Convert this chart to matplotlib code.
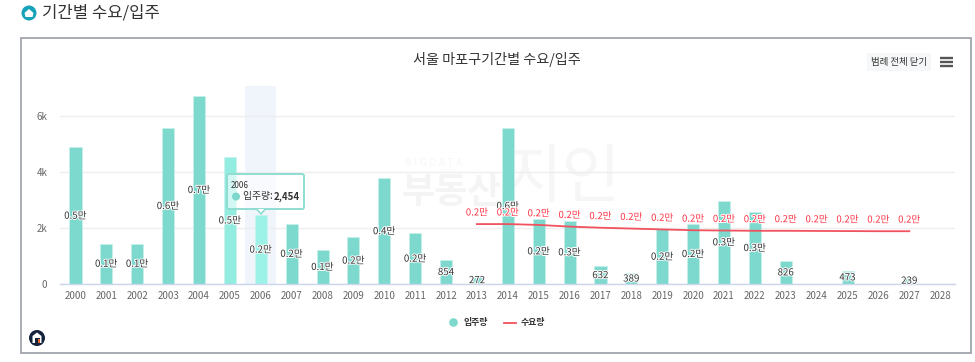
import matplotlib
matplotlib.use("Agg")
import matplotlib.pyplot as plt
import matplotlib.patheffects as pe
from matplotlib.patches import Rectangle, Circle, FancyBboxPatch, Polygon

plt.rcParams['font.family'] = ['Noto Sans CJK KR', 'DejaVu Sans']

years = list(range(2000, 2029))
supply = [4875, 1446, 1446, 5570, 6714, 4536, 2454, 2150, 1214, 1670, 3770, 1810,
          854, 272, 5570, 2330, 2260, 632, 389, 1950, 2140, 2975, 2570, 826, 0, 473, 0, 239, 0]
supply_labels = ['0.5만', '0.1만', '0.1만', '0.6만', '0.7만', '0.5만', '0.2만', '0.2만', '0.1만', '0.2만',
                 '0.4만', '0.2만', '854', '272', '0.6만', '0.2만', '0.3만', '632', '389', '0.2만',
                 '0.2만', '0.3만', '0.3만', '826', '', '473', '', '239', '']
demand_years = list(range(2013, 2028))
demand = [2140, 2140, 2110, 2050, 2010, 1980, 1950, 1920, 1910, 1900, 1900, 1895, 1890, 1885, 1885]
demand_labels = ['0.2만'] * 15
yticks = [0, 2000, 4000, 6000]
ytick_labels = ['0', '2k', '4k', '6k']

W, H = 975, 362
fig = plt.figure(figsize=(W / 100, H / 100), dpi=100, facecolor='white')

# pixel overlay (behind)
bg = fig.add_axes([0, 0, 1, 1], zorder=0)
bg.set_xlim(0, W); bg.set_ylim(H, 0); bg.axis('off')
bg.add_patch(Rectangle((20.5, 38), 950.5, 315, fc='white', ec='#9a9ea6', lw=1.2))
bg.add_patch(Circle((29, 13), 7.5, fc='#16a2b8', ec='none'))
bg.add_patch(Polygon([(24.5, 13), (29, 9), (33.5, 13), (32.5, 17), (25.5, 17)], fc='white', ec='none'))
bg.text(42, 13.5, '기간별 수요/입주', fontsize=12.0, color='#333333', va='center', ha='left')
bg.text(497, 59.5, '서울 마포구기간별 수요/입주', fontsize=10.2, color='#333333', va='center', ha='center')
bg.add_patch(Rectangle((867, 53), 64, 18, fc='#f6f7f8', ec='none'))
bg.text(899, 62, '범례 전체 닫기', fontsize=6.8, color='#333333', va='center', ha='center')
for y in (57.5, 61.5, 65.5):
    bg.plot([940, 953], [y, y], color='#555555', lw=1.7, solid_capstyle='butt')
# watermark
bg.text(405, 163, 'B I G D A T A', fontsize=7.5, color='#f6f6f6', va='center', ha='left')
bg.text(451, 193, '부동산', fontsize=26, color='#f4f4f5', va='center', ha='center', fontweight='bold')
bg.text(563, 179, '지인', fontsize=46, color='#f6f6f7', va='center', ha='center')

# chart axes: pixel extents x 60-955, y 86-284
ax = fig.add_axes([60 / W, 1 - 284 / H, 895 / W, 198 / H], zorder=1)
ax.patch.set_alpha(0)
ax.set_xlim(-0.502, 28.48)
ax.set_ylim(0, 7071)
for s in ('top', 'right', 'left'):
    ax.spines[s].set_visible(False)
ax.spines['bottom'].set_color('#ccd6eb')
ax.spines['bottom'].set_linewidth(1)
ax.grid(axis='y', color='#eeeeee', lw=1)
ax.set_axisbelow(True)
ax.set_yticks(yticks, ytick_labels)
ax.set_xticks(range(len(years)), [str(y) for y in years])
ax.tick_params(axis='both', length=0, labelsize=7, labelcolor='#666666')
ax.tick_params(axis='x', pad=5)
ax.tick_params(axis='y', pad=9)

x = list(range(len(years)))
ax.axvspan(5.5, 6.5, color='#ccd9f2', alpha=0.28, lw=0, zorder=0.5)
colors = ['#7dd8cd'] * len(years)
colors[5] = '#92ece0'
colors[6] = '#9df2e8'
ax.bar(x, supply, width=0.39, color=colors, edgecolor='#c8f2ec', linewidth=0.5, zorder=2)

dx = [y - years[0] for y in demand_years]
ax.plot(dx, demand, color='#f0525f', lw=1.3, zorder=3)

halo = [pe.withStroke(linewidth=1.4, foreground='white')]
for xi, v, l in zip(x, supply, supply_labels):
    if l:
        ax.text(xi, v / 2, l, fontsize=7, color='#333333', ha='center', va='center',
                path_effects=halo, zorder=5)
for xi, v, l in zip(dx, demand, demand_labels):
    ax.annotate(l, (xi, v), xytext=(0, 8), textcoords='offset points', fontsize=6.9, fontweight='medium',
                color='#ff3344', ha='center', va='center', path_effects=halo, zorder=6)

# pixel overlay (front)
fg = fig.add_axes([0, 0, 1, 1], zorder=2)
fg.set_xlim(0, W); fg.set_ylim(H, 0); fg.axis('off'); fg.patch.set_alpha(0)
# tooltip
fg.add_patch(FancyBboxPatch((227, 174), 77, 35, boxstyle='round,pad=0,rounding_size=2',
                            fc=(1, 1, 1, 0.6), ec='#8fdcd2', lw=1.4))
fg.add_patch(Polygon([(257, 209), (265, 209), (261, 214)], fc='white', ec='none'))
fg.plot([257, 261, 265], [209.3, 214, 209.3], color='#8fdcd2', lw=1.2)
fg.text(231, 185, '2006', fontsize=5.8, color='#333333', va='center', ha='left')
fg.add_patch(Circle((236, 196.5), 4, fc='#7dd8cd', ec='none'))
fg.text(243, 196.5, '입주량: ', fontsize=7, color='#333333', va='center', ha='left')
fg.text(274, 196.5, '2,454', fontsize=7, color='#333333', va='center', ha='left', fontweight='bold')
# legend
fg.add_patch(Circle((453.5, 322.5), 4.3, fc='#7dd8cd', ec='none'))
fg.text(464, 322.5, '입주량', fontsize=6.4, color='#333333', va='center', ha='left', fontweight='bold')
fg.plot([504, 516], [323, 323], color='#f0525f', lw=1.3)
fg.text(521, 322.5, '수요량', fontsize=6.4, color='#333333', va='center', ha='left', fontweight='bold')
# logo
fg.add_patch(Circle((37, 338), 8, fc='#14233c', ec='none'))
fg.add_patch(Polygon([(32.5, 343), (32.5, 336), (37, 332.5), (41.5, 336), (41.5, 343)], fc='white', ec='none'))
fg.add_patch(Rectangle((34.5, 338), 5, 5, fc='#14233c', ec='none'))
fg.add_patch(Rectangle((38, 339), 1.6, 4, fc='#e8622c', ec='none'))

fig.savefig('out.png', dpi=100, facecolor='white')
